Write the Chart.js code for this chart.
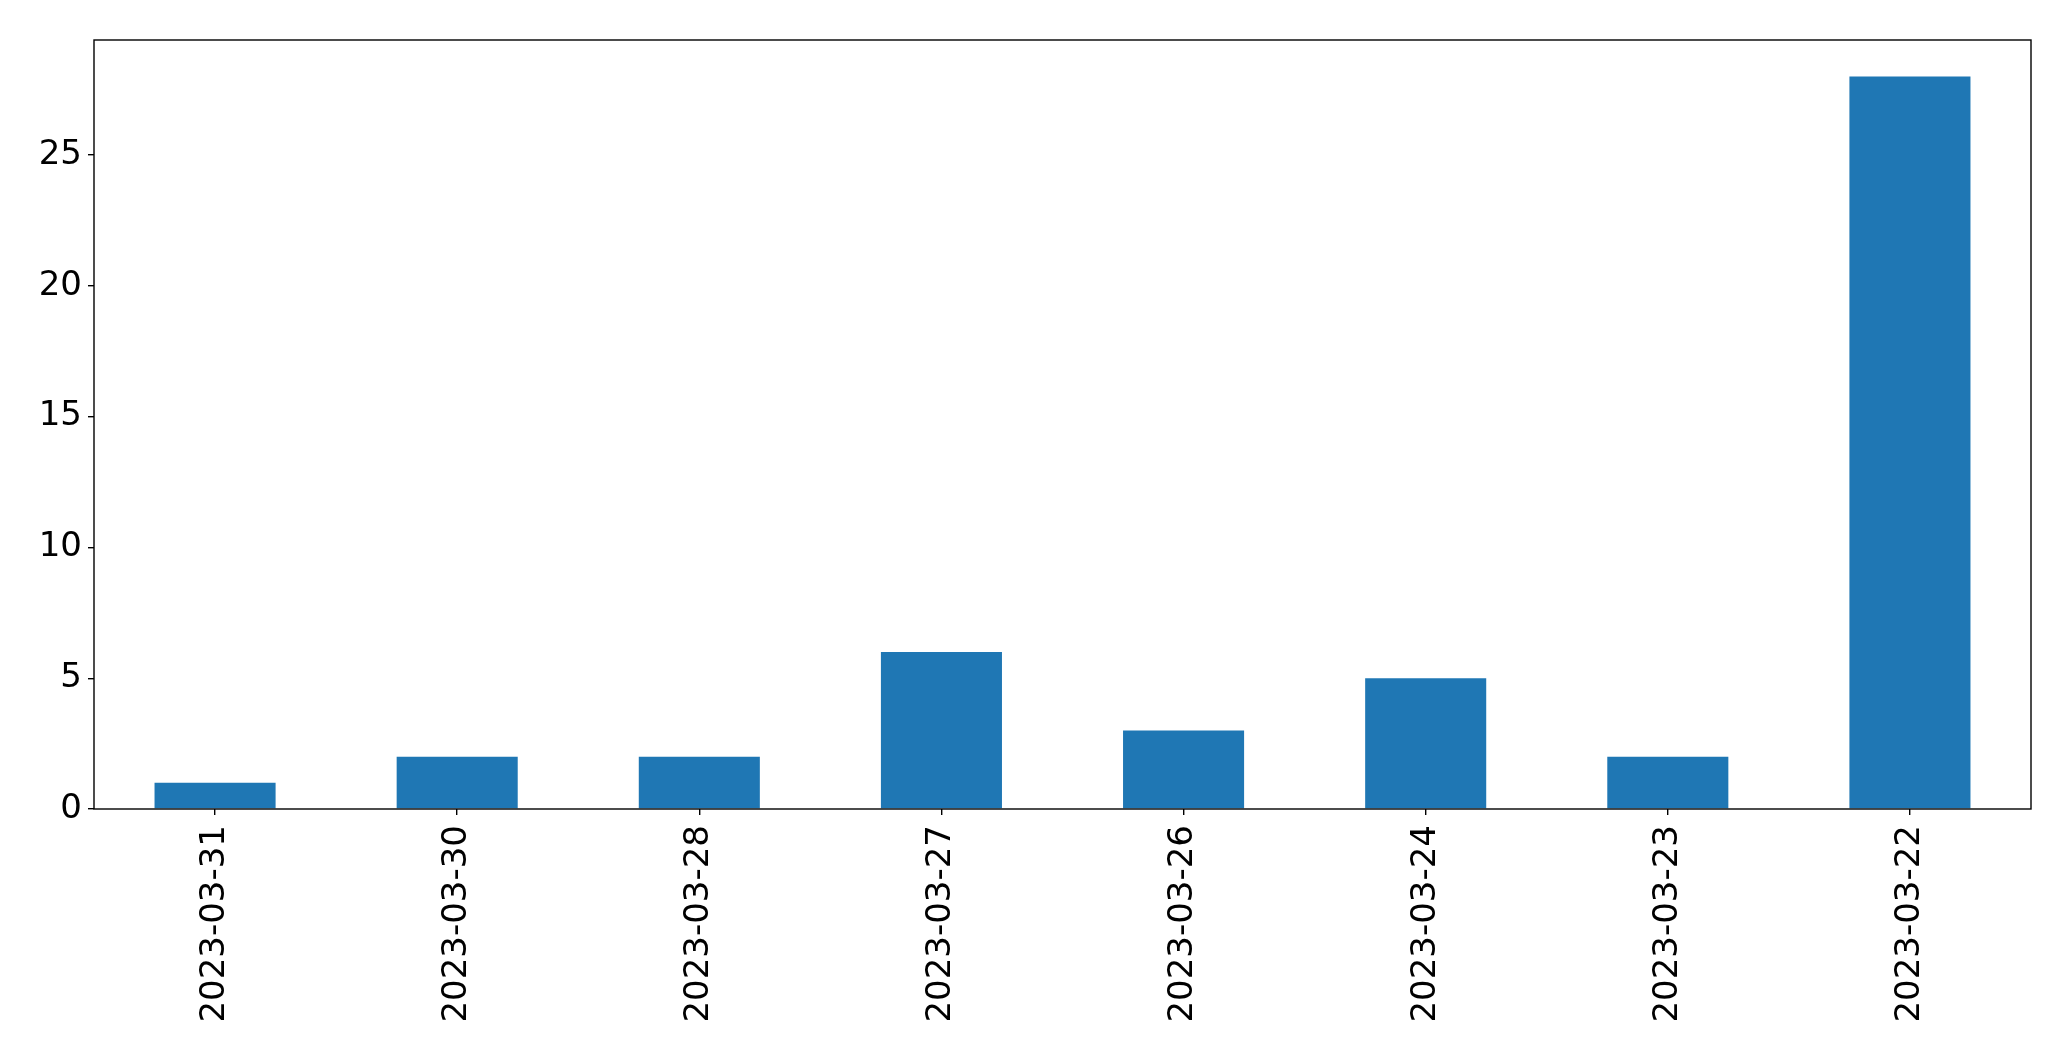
<!DOCTYPE html>
<html>
<head>
<meta charset="utf-8">
<title>Counts per day</title>
<script src="https://cdn.jsdelivr.net/npm/chart.js@4"></script>
<style>
    html, body { margin: 0; padding: 0; background: #fff; }
    #wrap { width: 2071px; height: 1061px; }
</style>
</head>
<body>
<div id="wrap"><canvas id="barChart" width="2071" height="1061"></canvas></div>
<script>
// Data
const dates = ['2023-03-31', '2023-03-30', '2023-03-28', '2023-03-27', '2023-03-26', '2023-03-24', '2023-03-23', '2023-03-22'];
const counts = [1, 2, 2, 6, 3, 5, 2, 28];
const yTicks = [0, 5, 10, 15, 20, 25];
const yMax = 29.4;

const FONT = { family: "'DejaVu Sans', sans-serif", size: 34 };

// Draw the full frame around the plot area (matplotlib style)
const frame = {
    id: 'frame',
    afterDraw(chart) {
        const a = chart.chartArea;
        const ctx = chart.ctx;
        ctx.save();
        ctx.strokeStyle = '#000';
        ctx.lineWidth = 1.4;
        ctx.strokeRect(a.left, a.top, a.right - a.left, a.bottom - a.top);
        ctx.restore();
    }
};

new Chart(document.getElementById('barChart'), {
    type: 'bar',
    data: {
        labels: dates,
        datasets: [{
            data: counts,
            backgroundColor: '#1f77b4',
            borderWidth: 0,
            barPercentage: 0.5,
            categoryPercentage: 1.0
        }]
    },
    options: {
        responsive: false,
        devicePixelRatio: 1,
        animation: false,
        layout: { padding: { top: 40, right: 40, left: 0, bottom: 0 } },
        plugins: {
            legend: { display: false },
            tooltip: { enabled: false }
        },
        scales: {
            x: {
                offset: true,
                afterFit: s => { s.height = 252; },
                border: { display: false },
                // ticks sit under the bar centres, not between categories
                grid: { offset: false, drawOnChartArea: false, drawTicks: true, tickLength: 6, color: '#000', lineWidth: 1.4 },
                ticks: { color: '#000', font: FONT, minRotation: 90, maxRotation: 90, padding: 10, autoSkip: false }
            },
            y: {
                min: 0,
                max: yMax,
                afterFit: s => { s.width = 94; },
                afterBuildTicks: s => { s.ticks = yTicks.map(v => ({ value: v })); },
                border: { display: false },
                grid: { drawOnChartArea: false, drawTicks: true, tickLength: 6, color: '#000', lineWidth: 1.4 },
                ticks: { color: '#000', font: FONT, padding: 6 }
            }
        }
    },
    plugins: [frame]
});
</script>
</body>
</html>
